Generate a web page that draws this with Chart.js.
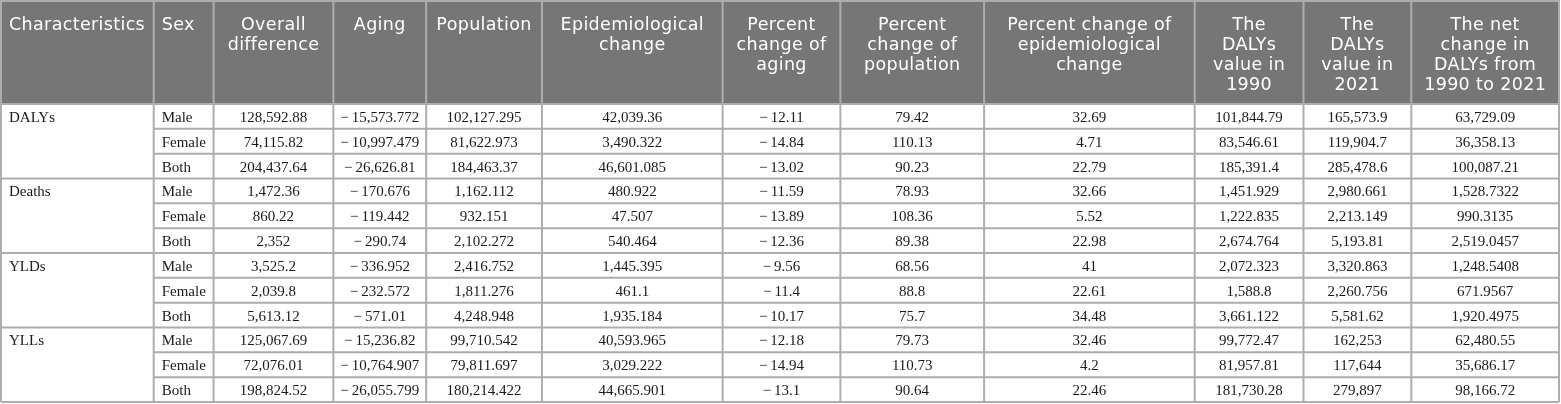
<!DOCTYPE html>
<html>
<head>
<meta charset="utf-8">
<script src="https://cdn.jsdelivr.net/npm/chart.js@4.4.1/dist/chart.umd.min.js"></script>
<style>
  html, body { margin: 0; padding: 0; background: #ffffff; }
  #tabla { display: block; }
</style>
</head>
<body>
<canvas id="tabla" width="1561" height="404"></canvas>
<script>
// Encabezados (una línea por elemento)
const headers = [
    ['Characteristics'],
    ['Sex'],
    ['Overall', 'difference'],
    ['Aging'],
    ['Population'],
    ['Epidemiological', 'change'],
    ['Percent', 'change of', 'aging'],
    ['Percent', 'change of', 'population'],
    ['Percent change of', 'epidemiological', 'change'],
    ['The', 'DALYs', 'value in', '1990'],
    ['The', 'DALYs', 'value in', '2021'],
    ['The net', 'change in', 'DALYs from', '1990 to 2021']
];

const characteristics = ['DALYs', 'Deaths', 'YLDs', 'YLLs'];
const sexes = ['Male', 'Female', 'Both'];

const overallDifference = [128592.88, 74115.82, 204437.64, 1472.36, 860.22, 2352, 3525.2, 2039.8, 5613.12, 125067.69, 72076.01, 198824.52];
const aging = [-15573.772, -10997.479, -26626.81, -170.676, -119.442, -290.74, -336.952, -232.572, -571.01, -15236.82, -10764.907, -26055.799];
const population = [102127.295, 81622.973, 184463.37, 1162.112, 932.151, 2102.272, 2416.752, 1811.276, 4248.948, 99710.542, 79811.697, 180214.422];
const epiChange = [42039.36, 3490.322, 46601.085, 480.922, 47.507, 540.464, 1445.395, 461.1, 1935.184, 40593.965, 3029.222, 44665.901];
const pctAging = [-12.11, -14.84, -13.02, -11.59, -13.89, -12.36, -9.56, -11.4, -10.17, -12.18, -14.94, -13.1];
const pctPopulation = [79.42, 110.13, 90.23, 78.93, 108.36, 89.38, 68.56, 88.8, 75.7, 79.73, 110.73, 90.64];
const pctEpi = [32.69, 4.71, 22.79, 32.66, 5.52, 22.98, 41, 22.61, 34.48, 32.46, 4.2, 22.46];
const dalys1990 = [101844.79, 83546.61, 185391.4, 1451.929, 1222.835, 2674.764, 2072.323, 1588.8, 3661.122, 99772.47, 81957.81, 181730.28];
const dalys2021 = [165573.9, 119904.7, 285478.6, 2980.661, 2213.149, 5193.81, 3320.863, 2260.756, 5581.62, 162253, 117644, 279897];
const netChange = [63729.09, 36358.13, 100087.21, 1528.7322, 990.3135, 2519.0457, 1248.5408, 671.9567, 1920.4975, 62480.55, 35686.17, 98166.72];

const numericColumns = [overallDifference, aging, population, epiChange, pctAging, pctPopulation, pctEpi, dalys1990, dalys2021, netChange];

// Anchos de columna (unidades del eje x)
const colWidths = [153, 60, 120, 93, 116, 181, 118, 144, 211, 109, 108, 148];

const rowLabels = [];
characteristics.forEach(c => sexes.forEach(s => rowLabels.push(c + ' ' + s)));

function fmt(v) {
    return v.toLocaleString('en-US', { maximumFractionDigits: 4 }).replace('-', '\u2212\u2009');
}

const colEdges = [0];
colWidths.forEach(w => colEdges.push(colEdges[colEdges.length - 1] + w));

const HEADER_BG = '#767676';
const GRID = '#adadad';

const tablePlugin = {
    id: 'tablePlugin',
    afterDraw(chart) {
        const ctx = chart.ctx;
        const x = chart.scales.x;
        const y = chart.scales.y;
        const area = chart.chartArea;
        const band = (area.bottom - area.top) / rowLabels.length;
        const xs = colEdges.map(e => x.getPixelForValue(e));
        const rowBottom = i => y.getPixelForValue(i) + band / 2;

        ctx.save();

        // Fondo del encabezado
        ctx.fillStyle = HEADER_BG;
        ctx.fillRect(xs[0], 0, xs[xs.length - 1] - xs[0], area.top);

        // Texto del encabezado
        ctx.fillStyle = '#ffffff';
        ctx.font = '17.5px "DejaVu Sans"';
        ctx.letterSpacing = '0.35px';
        ctx.textBaseline = 'middle';
        headers.forEach((lines, c) => {
            const left = c < 2;
            ctx.textAlign = left ? 'left' : 'center';
            const tx = left ? xs[c] + 8 : (xs[c] + xs[c + 1]) / 2;
            lines.forEach((line, k) => {
                ctx.fillText(line, tx, 25 + k * 20);
            });
        });
        ctx.letterSpacing = '0px';

        // Celdas
        ctx.fillStyle = '#1a1a1a';
        ctx.font = '15px "Liberation Serif"';
        rowLabels.forEach((label, r) => {
            const cy = y.getPixelForValue(r) + 1.5;
            ctx.textAlign = 'left';
            if (r % sexes.length === 0) {
                ctx.fillText(characteristics[r / sexes.length], xs[0] + 8, cy);
            }
            ctx.fillText(sexes[r % sexes.length], xs[1] + 8, cy);
            ctx.textAlign = 'center';
            numericColumns.forEach((col, c) => {
                ctx.fillText(fmt(col[r]), (xs[c + 2] + xs[c + 3]) / 2, cy);
            });
        });

        // Líneas de la cuadrícula
        ctx.strokeStyle = GRID;
        ctx.lineWidth = 2;
        ctx.beginPath();
        // verticales
        xs.forEach(px => {
            ctx.moveTo(px, 0);
            ctx.lineTo(px, area.bottom);
        });
        // borde superior
        ctx.moveTo(xs[0], 1);
        ctx.lineTo(xs[xs.length - 1], 1);
        // horizontales
        ctx.moveTo(xs[0], area.top);
        ctx.lineTo(xs[xs.length - 1], area.top);
        rowLabels.forEach((label, r) => {
            const yb = rowBottom(r);
            const lastOfGroup = (r + 1) % sexes.length === 0;
            ctx.moveTo(lastOfGroup ? xs[0] : xs[1], yb);
            ctx.lineTo(xs[xs.length - 1], yb);
        });
        ctx.stroke();

        ctx.restore();
    }
};

const ctxTabla = document.getElementById('tabla').getContext('2d');
const graficaTabla = new Chart(ctxTabla, {
    type: 'scatter',
    data: {
        labels: rowLabels,
        datasets: [{ data: [] }]
    },
    options: {
        responsive: false,
        animation: false,
        layout: {
            padding: { top: 104, left: 1, right: 2, bottom: 2 }
        },
        plugins: {
            legend: { display: false },
            tooltip: { enabled: false }
        },
        scales: {
            x: { type: 'linear', min: 0, max: colEdges[colEdges.length - 1], display: false },
            y: { type: 'category', labels: rowLabels, offset: true, display: false }
        }
    },
    plugins: [tablePlugin]
});
</script>
</body>
</html>
